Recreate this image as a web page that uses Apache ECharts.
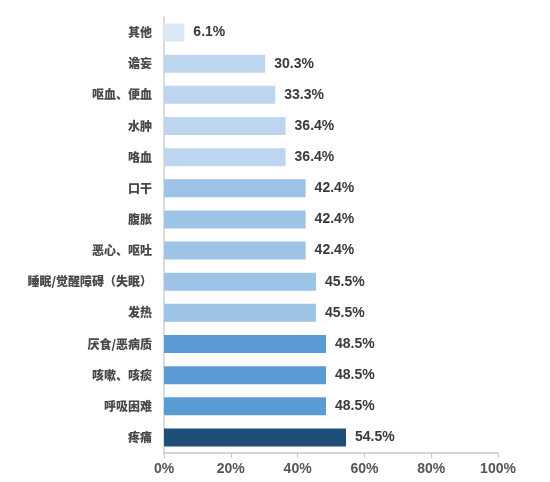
<!DOCTYPE html>
<html>
<head>
<meta charset="utf-8">
<script src="https://cdn.jsdelivr.net/npm/echarts@6/dist/echarts.min.js"></script>
<style>
html,body{margin:0;padding:0;background:#fff;}
#main{width:550px;height:482px;}
</style>
</head>
<body>
<div id="main"></div>
<script>
// 症状（从上到下）
var categories=['其他','谵妄','呕血、便血','水肿','咯血','口干','腹胀','恶心、呕吐','睡眠/觉醒障碍（失眠）','发热','厌食/恶病质','咳嗽、咳痰','呼吸困难','疼痛'];
var values=[6.1,30.3,33.3,36.4,36.4,42.4,42.4,42.4,45.5,45.5,48.5,48.5,48.5,54.5];
var barColors=['#dde8f6','#bdd5ee','#bdd5ee','#bdd5ee','#bdd5ee','#9dc3e6','#9dc3e6','#9dc3e6','#9dc3e6','#9dc3e6','#5b9bd5','#5b9bd5','#5b9bd5','#1f4e79'];
var xTicks=[0,20,40,60,80,100];

var cjkFont='"Noto Sans CJK SC",sans-serif';
var numFont='"Liberation Sans",Arial,sans-serif';
var myChart=echarts.init(document.getElementById('main'));
var option={
    animation:false,
    grid:{left:164,right:52,top:17,bottom:29},
    xAxis:{
        type:'value',
        min:xTicks[0],
        max:xTicks[xTicks.length-1],
        interval:20,
        axisLine:{show:true,lineStyle:{color:'#c8c8c8',width:1.5}},
        axisTick:{show:true,length:5,lineStyle:{color:'#c8c8c8'}},
        splitLine:{show:false},
        axisLabel:{formatter:'{value}%',color:'#555',fontWeight:'bold',fontSize:14,margin:9,fontFamily:numFont}
    },
    yAxis:{
        type:'category',
        inverse:true,
        data:categories,
        axisLine:{show:true,lineStyle:{color:'#d0d0d0',width:1.5}},
        axisTick:{show:false},
        axisLabel:{color:'#484848',fontWeight:900,fontSize:12,margin:12,fontFamily:cjkFont}
    },
    series:[{
        type:'bar',
        barWidth:18,
        data:values.map(function(v,i){return {value:v,itemStyle:{color:barColors[i]}};}),
        label:{
            show:true,
            position:'right',
            distance:9,
            formatter:'{c}%',
            color:'#3a3a3a',
            fontWeight:'bold',
            fontSize:14,
            fontFamily:numFont
        }
    }]
};
myChart.setOption(option);
</script>
</body>
</html>
